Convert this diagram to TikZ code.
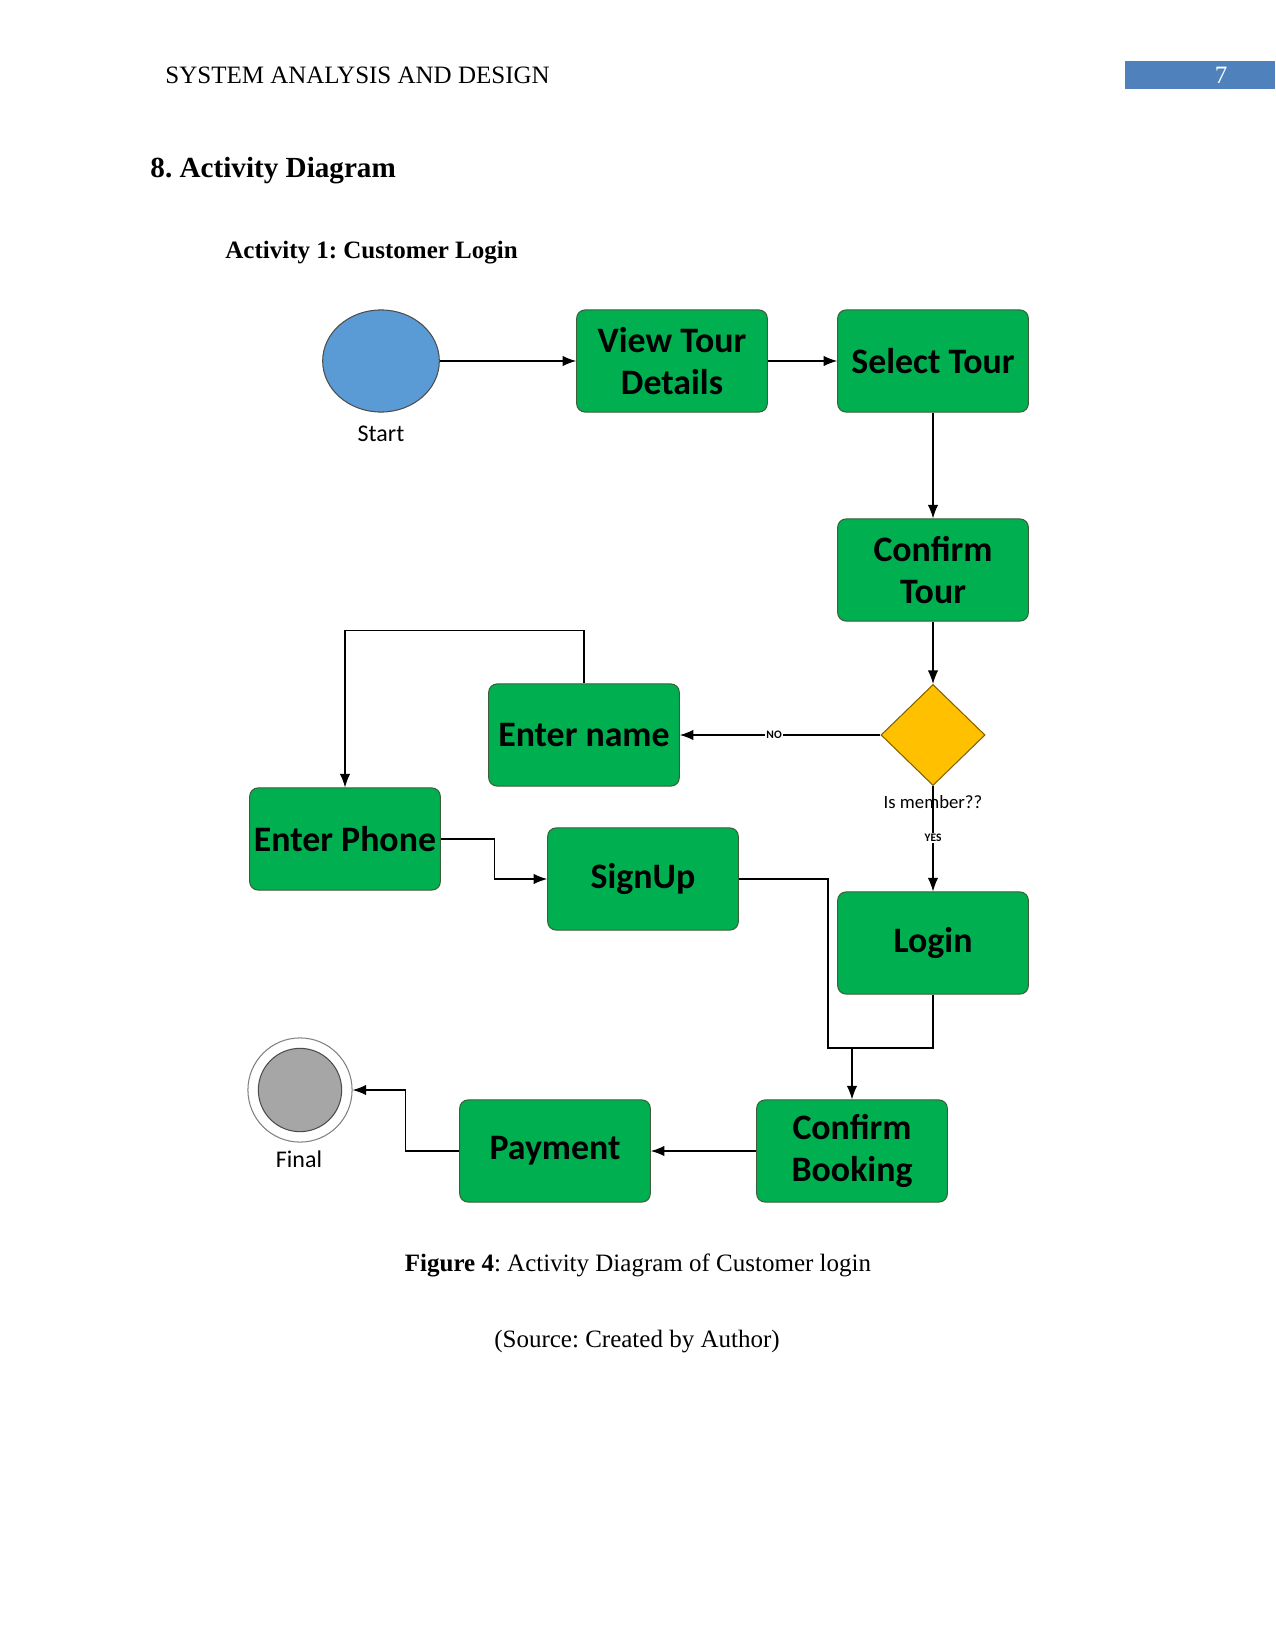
\documentclass[tikz,border=0pt]{standalone}
\usepackage{fontspec}
\setmainfont{Liberation Serif}
\newfontfamily\calibri{Carlito}
\usetikzlibrary{arrows.meta,shapes.geometric}
\definecolor{boxgreen}{HTML}{00B050}
\definecolor{boxedge}{HTML}{3A5F3A}
\definecolor{startblue}{HTML}{5B9BD5}
\definecolor{dgold}{HTML}{FFC000}
\definecolor{hdrblue}{HTML}{4F81BD}
\definecolor{fingray}{HTML}{A6A6A6}
\frenchspacing
\begin{document}
\begin{tikzpicture}[x=0.48pt,y=-0.48pt,
  actbox/.style={draw=boxedge,line width=0.5pt,fill=boxgreen,rounded corners=4pt,
    minimum width=91.5pt,minimum height=49pt,inner sep=1pt,align=center,
    font=\calibri\bfseries\fontsize{17.2}{20}\selectfont},
  arr/.style={draw=black,line width=0.6pt,-{Latex[length=6.5pt,width=5pt]}},
  ln/.style={draw=black,line width=0.6pt},
  lbl/.style={font=\calibri\fontsize{11.5}{13}\selectfont},
  tinylbl/.style={font=\calibri\bfseries\fontsize{5.5}{6.5}\selectfont,fill=white,inner sep=0.6pt}
]
\useasboundingbox (0,0) rectangle (1275,1650);
% header
\node[anchor=west,font=\fontsize{12}{14}\selectfont,inner sep=0] (hdr) at (165,75) {SYSTEM ANALYSIS AND DESIGN};
\fill[hdrblue] (1125,61) rectangle (1275,89);
\node[text=white,font=\fontsize{12}{14}\selectfont,inner sep=0] (pg) at (1221,75) {7};
\node[anchor=west,font=\bfseries\fontsize{14}{17}\selectfont,inner sep=0] (h1) at (150,171) {8. Activity Diagram};
\node[anchor=west,font=\bfseries\fontsize{12}{14}\selectfont,inner sep=0] (h2) at (225,253) {Activity 1: Customer Login};

% nodes
\node[ellipse,draw=black!70,line width=0.5pt,fill=startblue,minimum width=56pt,minimum height=49pt,inner sep=0] (st) at (381,361) {};
\node[lbl] (stl) at (381,434) {Start};
\node[actbox] (vt) at (672,361) {View Tour\\Details};
\node[actbox] (sel) at (933,361) {Select Tour};
\node[actbox] (ct) at (933,570) {Confirm\\Tour};
\node[diamond,draw=black!50!dgold,line width=0.5pt,fill=dgold,minimum width=50pt,minimum height=48.5pt,inner sep=0] (dm) at (933,735) {};
\node[actbox] (en) at (584,735) {Enter name};
\node[actbox] (ep) at (345,839) {Enter Phone};
\node[actbox] (su) at (643,879) {SignUp};
\node[actbox] (li) at (933,943) {Login};
\node[actbox] (cb) at (852,1151) {Confirm\\Booking};
\node[actbox] (pay) at (555,1151) {Payment};
\node[circle,draw=black!50,line width=0.5pt,fill=white,minimum size=50pt,inner sep=0] (fin) at (300,1090) {};
\node[circle,draw=black!70,line width=0.5pt,fill=fingray,minimum size=40pt,inner sep=0] (fini) at (300,1090) {};
\node[lbl] (finl) at (299,1159) {Final};

% connectors
\draw[arr] (st.east) -- (vt.west);
\draw[arr] (vt.east) -- (sel.west);
\draw[arr] (sel.south) -- (ct.north);
\draw[arr] (ct.south) -- (dm.north);
\draw[arr] (dm.west) -- node[tinylbl,pos=0.53] {NO} (en.east);
\draw[arr] (dm.south) -- (li.north);
\node[font=\calibri\fontsize{9}{11}\selectfont,inner sep=0] (ism) at (933,802) {Is member??};
\node[tinylbl] (yes) at (933,838) {YES};
\draw[arr] (en.north) -- ++(0,-53) -| (ep.north);
\draw[arr] (ep.east) -- ++(54,0) |- (su.west);
\coordinate (mL) at (828,1048);
\coordinate (m) at (852,1048);
\draw[ln] (su.east) -| (mL) -- (m);
\draw[ln] (li.south) |- (m);
\draw[arr] (m) -- (cb.north);
\draw[arr] (cb.west) -- (pay.east);
\draw[arr] (pay.west) -- ++(-54,0) |- (fin.east);

% caption
\node[font=\fontsize{12}{14}\selectfont,inner sep=0] (cap) at (638,1265) {\textbf{Figure 4}: Activity Diagram of Customer login};
\node[font=\fontsize{12}{14}\selectfont,inner sep=0] (src) at (637,1342) {(Source: Created by Author)};
\end{tikzpicture}
\end{document}
